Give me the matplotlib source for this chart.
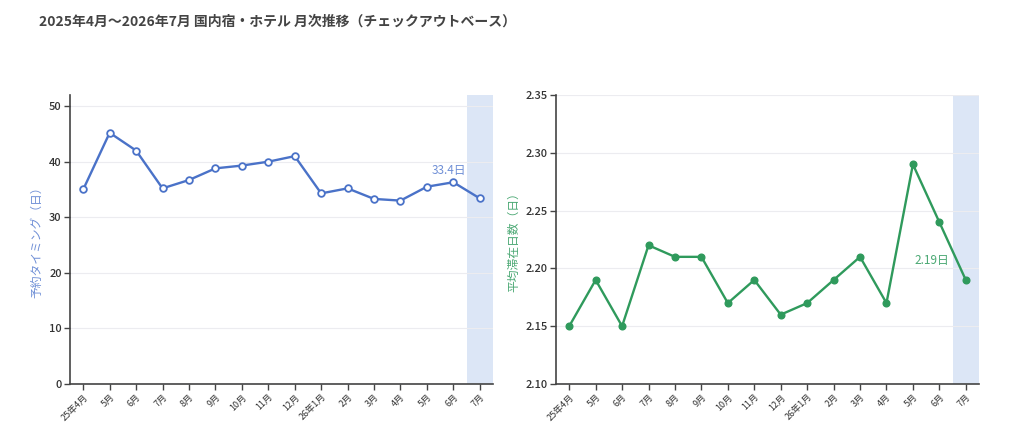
import matplotlib
matplotlib.use("Agg")
import matplotlib.pyplot as plt
import numpy as np

plt.rcParams['font.family'] = ['Noto Sans CJK JP', 'DejaVu Sans']

months = ["25年4月", "5月", "6月", "7月", "8月", "9月", "10月", "11月", "12月",
          "26年1月", "2月", "3月", "4月", "5月", "6月", "7月"]
lead_days = [35.0, 45.2, 42.0, 35.2, 36.7, 38.8, 39.3, 40.0, 41.0,
             34.3, 35.2, 33.3, 33.0, 35.5, 36.3, 33.4]
stay_days = [2.15, 2.19, 2.15, 2.22, 2.21, 2.21, 2.17, 2.19, 2.16,
             2.17, 2.19, 2.21, 2.17, 2.29, 2.24, 2.19]
left_ticks = [0, 10, 20, 30, 40, 50]
right_ticks = [2.10, 2.15, 2.20, 2.25, 2.30, 2.35]

title = "2025年4月～2026年7月 国内宿・ホテル 月次推移（チェックアウトベース）"
left_label = "予約タイミング（日）"
right_label = "平均滞在日数（日）"

blue = "#4a72c8"
blue_txt = "#6f8fd6"
green = "#2f9a5c"
green_txt = "#4aa873"
shade = "#dce6f6"
axis_col = "#444444"
grid_col = "#ececf0"

fig = plt.figure(figsize=(10.12, 4.48), dpi=100)
fig.patch.set_facecolor("white")

ax1 = fig.add_axes([70/1012, 1-384/448, (493-70)/1012, (384-95)/448])
ax2 = fig.add_axes([556/1012, 1-384/448, (979-556)/1012, (384-95)/448])

x = np.arange(len(months))

def style(ax, ylim, ticks, fmt, ylabel, ycol):
    ax.set_xlim(-0.5, len(months) - 0.5)
    ax.set_ylim(*ylim)
    ax.axvspan(len(months) - 1.5, len(months) - 0.5, color=shade, zorder=0, lw=0)
    ax.set_yticks(ticks)
    ax.set_yticklabels([fmt(t) for t in ticks], fontsize=8, color="#333333",
                       fontweight="medium")
    ax.set_xticks(x)
    ax.set_xticklabels(months, rotation=45, ha="right", rotation_mode="anchor",
                       fontsize=6.5, color="#333333")
    ax.yaxis.grid(True, color=grid_col, lw=0.8, zorder=0)
    ax.set_axisbelow(True)
    for s in ["top", "right"]:
        ax.spines[s].set_visible(False)
    for s in ["left", "bottom"]:
        ax.spines[s].set_color(axis_col)
        ax.spines[s].set_linewidth(1.2)
    ax.tick_params(axis="both", colors=axis_col, length=4, width=1, pad=2)
    ax.tick_params(axis="y", labelcolor="#333333")
    ax.tick_params(axis="x", labelcolor="#333333")
    ax.set_ylabel(ylabel, fontsize=8.5, color=ycol, labelpad=4)

style(ax1, (0, 52), left_ticks, lambda t: f"{t:d}", left_label, blue_txt)
style(ax2, (2.10, 2.35), right_ticks, lambda t: f"{t:.2f}", right_label, green_txt)

ax1.plot(x, lead_days, color=blue, lw=1.7, marker="o", ms=4.8,
         mfc="white", mec=blue, mew=1.3, zorder=3)
ax2.plot(x, stay_days, color=green, lw=1.7, marker="o", ms=4.8,
         mfc=green, mec=green, zorder=3)

ax1.annotate(f"{lead_days[-1]:.1f}日", xy=(x[-1], lead_days[-1]),
             xytext=(-10, 20), textcoords="offset points", ha="right", va="center",
             fontsize=8.5, color=blue_txt)
ax2.annotate(f"{stay_days[-1]:.2f}日", xy=(x[-1], stay_days[-1]),
             xytext=(-12, 14), textcoords="offset points", ha="right", va="center",
             fontsize=8.5, color=green_txt)

fig.text(39/1012, 1-22/448, title, fontsize=10, fontweight="bold",
         color="#444444", ha="left", va="center")

fig.savefig("out.png", dpi=100, facecolor="white")
